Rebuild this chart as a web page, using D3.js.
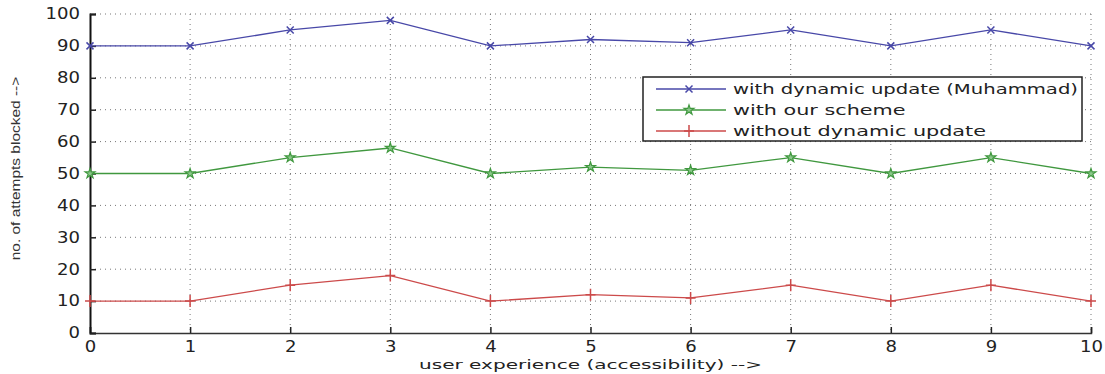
<!DOCTYPE html>
<html>
<head>
<meta charset="utf-8">
<script src="https://cdn.jsdelivr.net/npm/d3@7"></script>
<style>
  body { margin: 0; background: #fff; }
  svg { display: block; }
  .grid line { stroke: #777; stroke-width: 1; stroke-dasharray: 1,4; }
  .axis text { font-family: "DejaVu Sans", sans-serif; fill: #222; }
</style>
</head>
<body>
<script>
// x values (user experience) and the three series
let xvals = [0, 1, 2, 3, 4, 5, 6, 7, 8, 9, 10];
let dynamicUpdate = [90, 90, 95, 98, 90, 92, 91, 95, 90, 95, 90];
let ourScheme = [50, 50, 55, 58, 50, 52, 51, 55, 50, 55, 50];
let withoutUpdate = [10, 10, 15, 18, 10, 12, 11, 15, 10, 15, 10];
let seriesNames = ["with dynamic update (Muhammad)", "with our scheme", "without dynamic update"];
let yticks = [0, 10, 20, 30, 40, 50, 60, 70, 80, 90, 100];

let W = 1105, H = 374;
let margin = {top: 14, right: 14, bottom: 41, left: 90};
let width = W - margin.left - margin.right,
    height = H - margin.top - margin.bottom;

let svg = d3.select("body").append("svg")
    .attr("width", W)
    .attr("height", H)
  .append("g")
    .attr("transform", "translate(" + margin.left + "," + margin.top + ")");

let x = d3.scaleLinear().domain([0, 10]).range([0, width]);
let y = d3.scaleLinear().domain([0, 100]).range([height, 0]);

// grid
svg.append("g").attr("class", "grid")
  .selectAll("line.h").data(yticks.slice(1)).enter().append("line")
    .attr("x1", 0).attr("x2", width)
    .attr("y1", d => y(d)).attr("y2", d => y(d));
svg.append("g").attr("class", "grid")
  .selectAll("line.v").data(xvals.slice(1)).enter().append("line")
    .attr("y1", 0).attr("y2", height)
    .attr("x1", d => x(d)).attr("x2", d => x(d));

// stretched text helper, the original font is very wide
function stretch(sel, perChar) {
    sel.attr("textLength", function() { return this.textContent.length * perChar; })
       .attr("lengthAdjust", "spacingAndGlyphs");
}

// x axis
let xAxis = svg.append("g")
    .attr("class", "axis")
    .attr("transform", "translate(0," + height + ")")
    .call(d3.axisBottom(x).tickValues(xvals).tickSize(-6).tickPadding(8).tickFormat(d3.format("d")));
xAxis.select(".domain").attr("stroke", "#333").attr("stroke-width", 1.5);
xAxis.selectAll(".tick line").attr("stroke", "#222").attr("stroke-width", 1.5);
xAxis.selectAll(".tick text").style("font-size", "15px");
stretch(xAxis.selectAll(".tick text"), 11.5);

// y axis
let yAxis = svg.append("g")
    .attr("class", "axis")
    .call(d3.axisLeft(y).tickValues(yticks).tickSize(-6).tickPadding(10));
yAxis.select(".domain").attr("stroke", "#111").attr("stroke-width", 2);
yAxis.selectAll(".tick line").attr("stroke", "#222").attr("stroke-width", 1.5);
yAxis.selectAll(".tick text").style("font-size", "15px");
stretch(yAxis.selectAll(".tick text"), 11.5);

// axis titles
svg.append("text")
    .attr("x", width / 2)
    .attr("y", height + 36)
    .style("text-anchor", "middle")
    .style("font-family", "DejaVu Sans, sans-serif")
    .style("font-size", "13px")
    .style("fill", "#222")
    .text("user experience (accessibility) -->")
    .call(stretch, 9.8);

svg.append("text")
    .attr("transform", "rotate(-90)")
    .attr("x", -(height / 2) + 5)
    .attr("y", -70)
    .style("text-anchor", "middle")
    .style("font-family", "Liberation Sans, sans-serif")
    .style("font-size", "12px")
    .style("fill", "#333")
    .text("no. of attempts blocked -->")
    .call(stretch, 6.8);

// markers
let colors = ["#4848a8", "#40983f", "#cc4a4a"];
let star = d3.symbol().type(d3.symbolStar).size(30);
function drawMarker(g, i) {
    if (i === 0) {
        g.append("path").attr("d", "M-3.5,-3.5L3.5,3.5M-3.5,3.5L3.5,-3.5")
            .attr("stroke", colors[0]).attr("stroke-width", 1.5).attr("fill", "none");
    } else if (i === 1) {
        g.append("path").attr("d", star).attr("fill", "#8cc88c")
            .attr("stroke", colors[1]).attr("stroke-width", 1.2);
    } else {
        g.append("path").attr("d", "M-5,0L5,0M0,-6L0,6")
            .attr("stroke", colors[2]).attr("stroke-width", 1.5).attr("fill", "none");
    }
}

let line = d3.line()
    .x(function(d, i) { return x(xvals[i]); })
    .y(function(d) { return y(d); });

[dynamicUpdate, ourScheme, withoutUpdate].forEach(function(s, k) {
    svg.append("path")
        .datum(s)
        .attr("fill", "none")
        .attr("stroke", colors[k])
        .attr("stroke-width", 1.3)
        .attr("d", line);
    s.forEach(function(v, i) {
        let g = svg.append("g").attr("transform", "translate(" + x(xvals[i]) + "," + y(v) + ")");
        drawMarker(g, k);
    });
});

// legend
let lx = 643 - margin.left, ly = 77 - margin.top;
let legend = svg.append("g").attr("transform", "translate(" + lx + "," + ly + ")");
legend.append("rect")
    .attr("width", 439).attr("height", 64)
    .attr("fill", "#fff").attr("stroke", "#222").attr("stroke-width", 1.5);
seriesNames.forEach(function(name, k) {
    let ry = 12 + k * 21;
    let row = legend.append("g").attr("transform", "translate(0," + ry + ")");
    row.append("line").attr("x1", 13).attr("x2", 83)
        .attr("stroke", colors[k]).attr("stroke-width", 1.3);
    drawMarker(row.append("g").attr("transform", "translate(46,0)"), k);
    row.append("text")
        .attr("x", 90).attr("dy", "0.35em")
        .style("font-family", "DejaVu Sans, sans-serif")
        .style("font-size", "14px")
        .style("fill", "#222")
        .text(name)
        .call(stretch, 11.5);
});
</script>
</body>
</html>
